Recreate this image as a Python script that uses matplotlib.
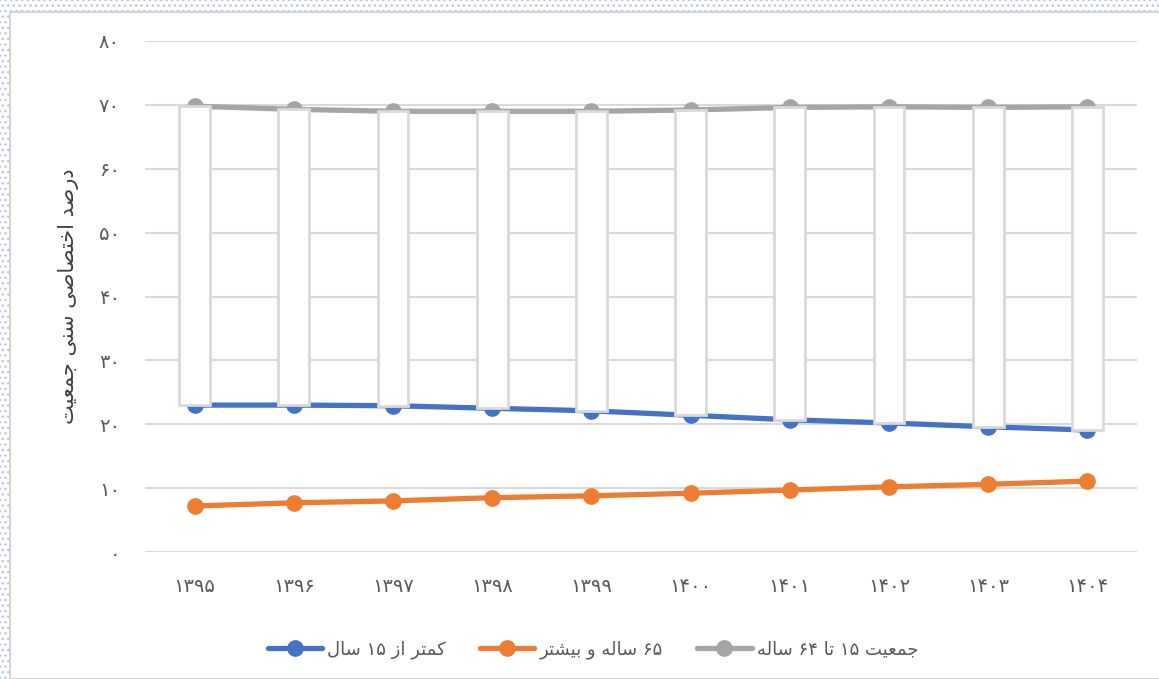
import matplotlib
matplotlib.use("Agg")
import matplotlib.pyplot as plt
from matplotlib.patches import Rectangle
import numpy as np

# ---------------- data ----------------
years = ["۱۳۹۵", "۱۳۹۶", "۱۳۹۷", "۱۳۹۸", "۱۳۹۹", "۱۴۰۰", "۱۴۰۱", "۱۴۰۲", "۱۴۰۳", "۱۴۰۴"]
under15 = [23.0, 23.0, 22.9, 22.5, 22.1, 21.4, 20.7, 20.2, 19.6, 19.1]
over65 = [7.2, 7.7, 8.0, 8.5, 8.8, 9.2, 9.7, 10.2, 10.6, 11.1]
age15_64 = [69.8, 69.3, 69.0, 69.0, 69.0, 69.2, 69.6, 69.7, 69.6, 69.7]
yticks = [0, 10, 20, 30, 40, 50, 60, 70, 80]
label_under15 = "کمتر از ۱۵ سال"
label_over65 = "۶۵ ساله و بیشتر"
label_mid = "جمعیت ۱۵ تا ۶۴ ساله"
ylabel_text = "درصد اختصاصی سنی جمعیت"

# ---------------- minimal Persian shaping ----------------
FORMS = {
    "ا": (0xFE8D, 0xFE8E, None, None),
    "ب": (0xFE8F, 0xFE90, 0xFE91, 0xFE92),
    "ت": (0xFE95, 0xFE96, 0xFE97, 0xFE98),
    "ج": (0xFE9D, 0xFE9E, 0xFE9F, 0xFEA0),
    "خ": (0xFEA5, 0xFEA6, 0xFEA7, 0xFEA8),
    "د": (0xFEA9, 0xFEAA, None, None),
    "ر": (0xFEAD, 0xFEAE, None, None),
    "ز": (0xFEAF, 0xFEB0, None, None),
    "س": (0xFEB1, 0xFEB2, 0xFEB3, 0xFEB4),
    "ش": (0xFEB5, 0xFEB6, 0xFEB7, 0xFEB8),
    "ص": (0xFEB9, 0xFEBA, 0xFEBB, 0xFEBC),
    "ع": (0xFEC9, 0xFECA, 0xFECB, 0xFECC),
    "ل": (0xFEDD, 0xFEDE, 0xFEDF, 0xFEE0),
    "م": (0xFEE1, 0xFEE2, 0xFEE3, 0xFEE4),
    "ن": (0xFEE5, 0xFEE6, 0xFEE7, 0xFEE8),
    "ه": (0xFEE9, 0xFEEA, 0xFEEB, 0xFEEC),
    "و": (0xFEED, 0xFEEE, None, None),
    "ی": (0xFBFC, 0xFBFD, 0xFBFE, 0xFBFF),
    "ک": (0xFB8E, 0xFB8F, 0xFB90, 0xFB91),
}


def shape_word(w):
    out = []
    n = len(w)
    for i, ch in enumerate(w):
        if ch not in FORMS:
            out.append(ch)
            continue
        f = FORMS[ch]
        prev_joins = i > 0 and w[i - 1] in FORMS and FORMS[w[i - 1]][2] is not None
        next_exists = i < n - 1 and w[i + 1] in FORMS
        can_join_next = f[2] is not None and next_exists
        if prev_joins and can_join_next:
            code = f[3]
        elif prev_joins:
            code = f[1]
        elif can_join_next:
            code = f[2]
        else:
            code = f[0]
        out.append(chr(code))
    return "".join(out)


def rtl(text):
    words = text.split(" ")
    vis = []
    for w in words:
        if any(c in FORMS for c in w):
            vis.append(shape_word(w)[::-1])
        else:
            vis.append(w)
    return " ".join(vis[::-1])


# ---------------- figure ----------------
W, H = 1159, 679
fig = plt.figure(figsize=(W / 100, H / 100), dpi=100)
fig.patch.set_facecolor("white")
bg = Rectangle((0, 0), 1, 1, transform=fig.transFigure, facecolor="white",
               edgecolor="#b4c6e6", hatch="...", linewidth=0, zorder=-10)
fig.patches.append(bg)
panel = Rectangle((10 / W, 0), 1.0, 1 - 12 / H, transform=fig.transFigure,
                  facecolor="white", edgecolor="#d4d4d4", linewidth=1.5, zorder=-9)
fig.patches.append(panel)

ax = fig.add_axes([145 / W, 1 - 552 / H, (1137 - 145) / W, (552 - 41) / H])
ax.set_facecolor("none")
x = np.arange(len(years))

c_blue, c_orange, c_gray = "#4472c4", "#ed7d31", "#a5a5a5"
lw, ms = 3.8, 11
ax.plot(x, under15, color=c_blue, lw=lw, marker="o", ms=ms, zorder=3,
        label=rtl(label_under15), solid_capstyle="round")
ax.plot(x, over65, color=c_orange, lw=lw, marker="o", ms=ms, zorder=3,
        label=rtl(label_over65), solid_capstyle="round")
ax.plot(x, age15_64, color=c_gray, lw=lw, marker="o", ms=ms, zorder=3,
        label=rtl(label_mid), solid_capstyle="round")

# up-down bars between first and last series
lo = np.array(under15)
hi = np.array(age15_64)
ax.bar(x, hi - lo, bottom=lo, width=0.31, facecolor="white",
       edgecolor="#d9d9d9", linewidth=2, zorder=4)

ax.set_xlim(-0.5, len(years) - 0.5)
ax.set_ylim(0, 80)
ax.set_yticks(yticks)
fa = str.maketrans("0123456789", "۰۱۲۳۴۵۶۷۸۹")
ax.set_yticklabels([str(v).translate(fa) for v in yticks])
ax.set_xticks(x)
ax.set_xticklabels(years)
ax.grid(axis="y", color="#d9d9d9", lw=1.5, zorder=0)
ax.set_axisbelow(True)
for s in ax.spines.values():
    s.set_visible(False)
ax.tick_params(axis="both", length=0, colors="#595959", labelsize=14)
ax.tick_params(axis="y", pad=18)
ax.tick_params(axis="x", pad=18)
ax.set_ylabel(rtl(ylabel_text), fontsize=15, color="#404040", labelpad=14)

leg = fig.legend(loc="center", bbox_to_anchor=(593 / W, 1 - 650 / H), ncol=3,
                 frameon=False, fontsize=13, handlelength=3.0, columnspacing=1.9,
                 handletextpad=0.3, labelcolor="#595959")

fig.savefig("out.png", dpi=100, facecolor=fig.get_facecolor())
